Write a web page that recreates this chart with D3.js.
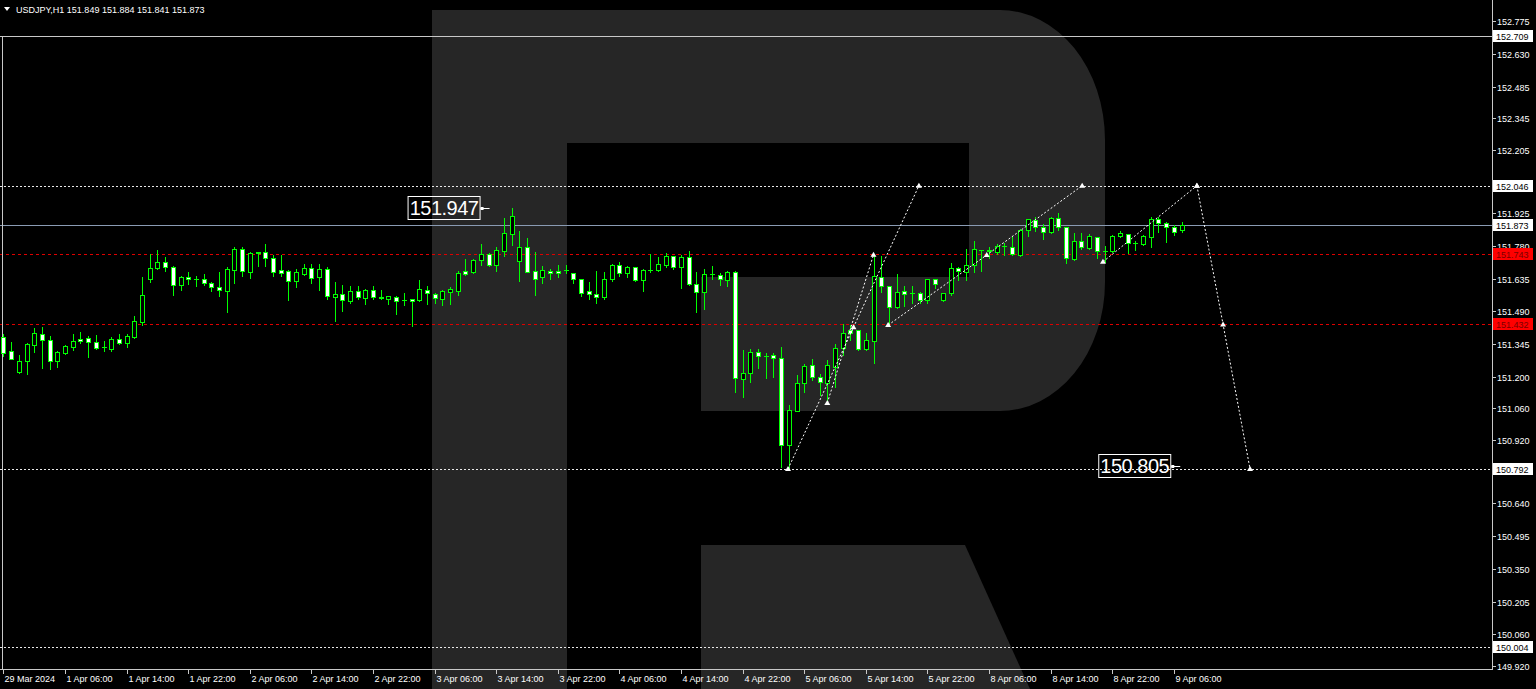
<!DOCTYPE html>
<html><head><meta charset="utf-8">
<script src="https://cdnjs.cloudflare.com/ajax/libs/d3/7.8.5/d3.min.js"></script>
<style>html,body{margin:0;padding:0;background:#000;overflow:hidden}svg{display:block}</style>
</head><body><svg id="c" width="1536" height="689"></svg>
<script>
// ---------------- DATA ----------------
const symbolTitle = "USDJPY,H1";
const sessions = [
  {day: "29 Mar", from: 22, to: 23},
  {day: "1 Apr", from: 0, to: 23},
  {day: "2 Apr", from: 0, to: 23},
  {day: "3 Apr", from: 0, to: 23},
  {day: "4 Apr", from: 0, to: 23},
  {day: "5 Apr", from: 0, to: 23},
  {day: "8 Apr", from: 0, to: 23},
  {day: "9 Apr", from: 0, to: 7}
];
const opens = [151.376,151.316,151.221,151.272,151.341,151.391,151.363,151.269,151.307,151.332,
151.367,151.372,151.354,151.330,151.325,151.369,151.348,151.375,151.444,151.632,
151.682,151.708,151.688,151.605,151.640,151.635,151.632,151.614,151.598,151.581,
151.673,151.764,151.664,151.750,151.752,151.727,151.671,151.667,151.626,151.655,
151.683,151.640,151.676,151.553,151.568,151.537,151.580,151.551,151.585,151.553,
151.545,151.555,151.538,151.544,151.540,151.584,151.567,151.543,151.575,151.578,
151.668,151.664,151.719,151.744,151.696,151.757,151.834,151.711,151.773,151.667,
151.640,151.668,151.668,151.672,151.658,151.632,151.578,151.567,151.552,151.632,
151.695,151.658,151.684,151.627,151.675,151.673,151.694,151.735,151.685,151.729,
151.611,151.576,151.654,151.650,151.629,151.663,151.189,151.217,151.309,151.294,
151.297,151.284,150.899,151.050,151.171,151.252,151.200,151.171,151.244,151.326,
151.407,151.407,151.323,151.360,151.643,151.601,151.507,151.578,151.569,151.572,
151.540,151.631,151.540,151.569,151.683,151.665,151.694,151.761,151.760,151.753,
151.779,151.773,151.740,151.849,151.894,151.861,151.839,151.904,151.861,151.720,
151.799,151.770,151.820,151.758,151.758,151.823,151.830,151.793,151.788,151.817,
151.897,151.879,151.861,151.849];
const highs = [151.390,151.356,151.295,151.348,151.418,151.419,151.381,151.313,151.342,151.390,
151.398,151.381,151.385,151.357,151.375,151.390,151.390,151.469,151.642,151.744,
151.760,151.730,151.692,151.646,151.664,151.646,151.655,151.618,151.663,151.685,
151.773,151.773,151.754,151.754,151.788,151.739,151.739,151.673,151.679,151.699,
151.699,151.699,151.685,151.620,151.606,151.602,151.602,151.588,151.602,151.585,
151.557,151.558,151.571,151.546,151.629,151.602,151.573,151.584,151.599,151.668,
151.722,151.720,151.788,151.746,151.773,151.902,151.947,151.846,151.813,151.753,
151.691,151.679,151.694,151.694,151.660,151.634,151.620,151.668,151.663,151.699,
151.709,151.691,151.686,151.677,151.744,151.729,151.747,151.736,151.740,151.757,
151.663,151.676,151.692,151.658,151.670,151.670,151.319,151.323,151.323,151.306,
151.304,151.334,151.076,151.208,151.256,151.281,151.212,151.274,151.345,151.436,
151.429,151.409,151.395,151.740,151.737,151.603,151.655,151.601,151.601,151.574,
151.635,151.633,151.572,151.705,151.685,151.768,151.802,151.762,151.773,151.787,
151.793,151.823,151.853,151.898,151.908,151.876,151.908,151.926,151.862,151.835,
151.838,151.832,151.821,151.779,151.827,151.845,151.832,151.802,151.827,151.908,
151.908,151.886,151.872,151.884];
const lows = [151.290,151.277,151.218,151.213,151.310,151.238,151.236,151.242,151.300,151.319,
151.348,151.289,151.323,151.316,151.316,151.344,151.334,151.372,151.429,151.621,
151.676,151.667,151.561,151.584,151.611,151.602,151.606,151.581,151.558,151.487,
151.617,151.646,151.637,151.691,151.691,151.646,151.646,151.540,151.596,151.652,
151.617,151.584,151.546,151.447,151.493,151.525,151.543,151.524,151.546,151.546,
151.522,151.480,151.518,151.425,151.537,151.522,151.528,151.519,151.524,151.561,
151.649,151.661,151.696,151.692,151.667,151.735,151.782,151.626,151.662,151.561,
151.617,151.634,151.643,151.661,151.614,151.558,151.546,151.525,151.543,151.626,
151.647,151.641,151.625,151.582,151.664,151.670,151.688,151.676,151.592,151.606,
151.489,151.501,151.633,151.608,151.602,151.135,151.110,151.179,151.241,151.197,
151.201,150.800,150.788,151.048,151.134,151.185,151.119,151.082,151.156,151.296,
151.362,151.318,151.320,151.262,151.576,151.433,151.505,151.513,151.528,151.525,
151.528,151.591,151.537,151.562,151.628,151.628,151.665,151.669,151.728,151.743,
151.739,151.739,151.737,151.824,151.846,151.808,151.835,151.852,151.705,151.717,
151.764,151.764,151.728,151.709,151.753,151.820,151.746,151.761,151.783,151.776,
151.841,151.798,151.826,151.841];
const closes = [151.307,151.280,151.269,151.344,151.393,151.362,151.269,151.308,151.335,151.359,
151.359,151.354,151.329,151.331,151.369,151.348,151.381,151.446,151.561,151.683,
151.708,151.686,151.605,151.640,151.635,151.632,151.617,151.596,151.583,151.676,
151.764,151.667,151.750,151.752,151.727,151.664,151.661,151.626,151.663,151.683,
151.639,151.679,151.558,151.568,151.539,151.581,151.553,151.586,151.553,151.551,
151.556,151.537,151.539,151.536,151.587,151.570,151.549,151.580,151.587,151.658,
151.654,151.717,151.744,151.694,151.761,151.837,151.910,151.776,151.664,151.632,
151.673,151.658,151.658,151.671,151.632,151.570,151.567,151.552,151.632,151.697,
151.658,151.684,151.627,151.675,151.673,151.700,151.735,151.685,151.729,151.610,
151.576,151.654,151.653,151.632,151.663,151.194,151.219,151.309,151.294,151.293,
151.285,150.899,151.052,151.171,151.247,151.200,151.175,151.252,151.326,151.396,
151.392,151.323,151.362,151.646,151.601,151.507,151.575,151.566,151.569,151.542,
151.631,151.610,151.569,151.683,151.670,151.696,151.764,151.760,151.758,151.779,
151.780,151.743,151.852,151.897,151.861,151.839,151.904,151.861,151.724,151.799,
151.773,151.823,151.758,151.757,151.823,151.838,151.793,151.794,151.823,151.897,
151.879,151.861,151.841,151.873];

const priceTickLabels = ["152.775","152.630","152.485","152.345","152.205","151.925","151.780",
  "151.635","151.490","151.345","151.200","151.060","150.920","150.640","150.495","150.350",
  "150.205","150.060","149.920"];
const tickHours = [6, 14, 22];
// horizontal levels (price values)
const levelPrices = [152.709, 152.046, 151.873, 151.743, 151.432, 150.792, 150.004];
// wave / forecast polylines: [bar index, price]
const waveSegments = [
  [[101.9,150.792],[110.4,151.419],[118.9,152.046]],
  [[107,151.084],[113,151.740]],
  [[114.9,151.429],[127.7,151.739],[140.1,152.046]],
  [[142.8,151.709],[155.0,152.046]],
  [[155.0,152.046],[158.4,151.432],[161.9,150.792]]
];
const calloutPrices = [151.947, 150.805];
const calloutBars = [62.1, 151.8];

// ---------------- CHART ----------------
const W = 1536, H = 689;
const plotRight = 1492, plotBottom = 669;
const svg = d3.select("#c");

const categories = [];
sessions.forEach(s => { for (let h = s.from; h <= s.to; h++) categories.push({day: s.day, hour: h}); });
const N = opens.length;

const x = d3.scaleLinear().domain([0, N - 1]).range([3.4, 3.4 + 7.7 * (N - 1)]);
const y = d3.scaleLinear().domain([149.920, 152.775]).range([666, 21]);

// background
svg.append("rect").attr("width", W).attr("height", H).attr("fill", "#000");

// logo watermark (decorative)
const logo = svg.append("g").attr("fill", "#262626");
logo.append("path").attr("d",
  "M432,10 H1000 A105,130 0 0 1 1105,140 V282 A105,129 0 0 1 1000,411 H701 V277 H969 V143 H567 V689 H432 Z");
logo.append("path").attr("d", "M701,545 H965 L1030,689 H701 Z");

svg.append("clipPath").attr("id", "plot").append("rect")
  .attr("x", 0).attr("y", 0).attr("width", plotRight).attr("height", plotBottom);
const plot = svg.append("g").attr("clip-path", "url(#plot)");

// horizontal levels
const levelStyles = ["frame", "dot", "bid", "red", "red", "dot", "dot"];
const styleMap = {
  frame: {stroke: "#c8c8c8", dash: null},
  dot:   {stroke: "#e8e8e8", dash: "2,2"},
  bid:   {stroke: "#8a9bb3", dash: null},
  red:   {stroke: "#e00000", dash: "3,3"}
};
levelPrices.forEach((p, k) => {
  const st = styleMap[levelStyles[k]];
  const yy = Math.round(y(p)) + 0.5;
  plot.append("line").attr("x1", 0).attr("x2", plotRight).attr("y1", yy).attr("y2", yy)
    .attr("stroke", st.stroke).attr("stroke-width", 1)
    .attr("stroke-dasharray", st.dash);
});
// left frame line from the top level
plot.append("line").attr("x1", 2.5).attr("x2", 2.5)
  .attr("y1", Math.round(y(levelPrices[0])) + 0.5).attr("y2", plotBottom)
  .attr("stroke", "#c8c8c8");

// candles
const up = "#00ff00";
const cg = plot.append("g");
for (let i = 0; i < N; i++) {
  const cx = Math.round(x(i));
  const o = opens[i], c = closes[i], hi = highs[i], lo = lows[i];
  cg.append("line").attr("x1", cx + 0.5).attr("x2", cx + 0.5)
    .attr("y1", Math.round(y(hi))).attr("y2", Math.round(y(lo)) + 1)
    .attr("stroke", up);
  const yt = Math.round(y(Math.max(o, c))), yb = Math.round(y(Math.min(o, c)));
  if (yb - yt < 1) {
    cg.append("line").attr("x1", cx - 2).attr("x2", cx + 3)
      .attr("y1", yt + 0.5).attr("y2", yt + 0.5).attr("stroke", up);
  } else {
    cg.append("rect").attr("x", cx - 1.5).attr("y", yt + 0.5)
      .attr("width", 4).attr("height", yb - yt)
      .attr("fill", c < o ? "#ffffff" : "#000000").attr("stroke", up);
  }
}

// wave lines
const wl = d3.line().x(d => x(d[0])).y(d => y(d[1]));
waveSegments.forEach(seg => {
  plot.append("path").attr("d", wl(seg)).attr("fill", "none")
    .attr("stroke", "#ffffff").attr("stroke-width", 1).attr("stroke-dasharray", "2,2");
  seg.forEach(pt => {
    const px = x(pt[0]), py = y(pt[1]);
    plot.append("path").attr("d", `M${px-3},${py+2} L${px},${py-3} L${px+3},${py+2} Z`)
      .attr("fill", "#ffffff");
  });
});

// callouts
calloutPrices.forEach((p, k) => {
  const yy = y(p);
  const xr = x(calloutBars[k]);
  const g = plot.append("g");
  g.append("text").attr("x", xr - 37.5).attr("y", yy + 7)
    .attr("text-anchor", "middle").attr("fill", "#fff")
    .attr("font-family", "Liberation Sans, Arial, sans-serif").attr("font-size", 20)
    .attr("letter-spacing", -0.5).text(p.toFixed(3));
  g.append("rect").attr("x", xr - 73.5).attr("y", Math.round(yy) - 11.5)
    .attr("width", 72).attr("height", 23).attr("fill", "none").attr("stroke", "#fff");
  g.append("line").attr("x1", xr - 1).attr("x2", xr + 8).attr("y1", Math.round(yy) + 0.5)
    .attr("y2", Math.round(yy) + 0.5).attr("stroke", "#fff");
  g.append("rect").attr("x", xr - 1).attr("y", Math.round(yy) - 1).attr("width", 3).attr("height", 3).attr("fill", "#fff");
});

// axes
const axisColor = "#c8c8c8";
svg.append("line").attr("x1", plotRight + 0.5).attr("x2", plotRight + 0.5).attr("y1", 0).attr("y2", plotBottom + 1)
  .attr("stroke", axisColor);
svg.append("line").attr("x1", 0).attr("x2", plotRight + 1).attr("y1", plotBottom + 0.5).attr("y2", plotBottom + 0.5)
  .attr("stroke", axisColor);

const font = "Liberation Sans, Arial, sans-serif";
priceTickLabels.forEach(s => {
  const yy = Math.round(y(+s)) + 0.5;
  svg.append("line").attr("x1", plotRight).attr("x2", plotRight + 4).attr("y1", yy).attr("y2", yy).attr("stroke", axisColor);
  svg.append("text").attr("x", plotRight + 5).attr("y", yy + 3.5).attr("fill", "#fff")
    .attr("font-family", font).attr("font-size", 9).text(s);
});

// price labels of levels
const labelFill = {frame: "#ffffff", dot: "#ffffff", bid: "#ffffff", red: "#ff0000"};
const labelText = {frame: "#000", dot: "#000", bid: "#000", red: "#7a0000"};
levelPrices.forEach((p, k) => {
  const yy = Math.round(y(p));
  const st = levelStyles[k];
  svg.append("rect").attr("x", plotRight + 1).attr("y", yy - 6).attr("width", 40).attr("height", 12)
    .attr("fill", labelFill[st]);
  svg.append("text").attr("x", plotRight + 4).attr("y", yy + 3.5).attr("fill", labelText[st])
    .attr("font-family", font).attr("font-size", 9).text(p.toFixed(3));
});

// time axis
categories.forEach((cat, i) => {
  let label = null;
  if (i === 0) label = cat.day + " 2024";
  else if (tickHours.includes(cat.hour)) label = cat.day + " " + String(cat.hour).padStart(2, "0") + ":00";
  if (!label) return;
  const xx = Math.round(x(i)) + 0.5;
  svg.append("line").attr("x1", xx).attr("x2", xx).attr("y1", plotBottom).attr("y2", plotBottom + 5).attr("stroke", axisColor);
  svg.append("text").attr("x", xx + 1).attr("y", plotBottom + 13).attr("fill", "#fff")
    .attr("font-family", font).attr("font-size", 9).text(label);
});

// header
svg.append("path").attr("d", "M4,7 L10,7 L7,11 Z").attr("fill", "#fff");
svg.append("text").attr("x", 16).attr("y", 13).attr("fill", "#fff")
  .attr("font-family", font).attr("font-size", 9)
  .text(symbolTitle + "  " + [opens[N-1], highs[N-1], lows[N-1], closes[N-1]].map(v => v.toFixed(3)).join(" "));
</script>
</body></html>
